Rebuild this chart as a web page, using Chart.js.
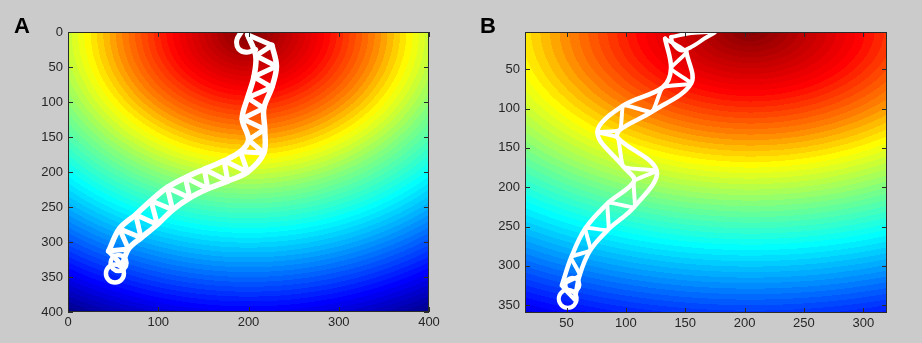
<!DOCTYPE html>
<html>
<head>
<meta charset="utf-8">
<script src="https://cdn.jsdelivr.net/npm/chart.js@4.4.1/dist/chart.umd.min.js"></script>
<style>
  html, body { margin: 0; padding: 0; background: #cbcbcb; }
  #wrap { position: relative; width: 922px; height: 343px; overflow: hidden; }
  .panel { position: absolute; top: 0; width: 461px; height: 343px; }
  .tag { position: absolute; top: 13px; font: bold 22px 'Liberation Sans', Arial, sans-serif; color: #000; }
</style>
</head>
<body>
<div id="wrap">
  <div class="panel" style="left:0"><canvas id="chart-a"></canvas></div>
  <div class="panel" style="left:461px"><canvas id="chart-b"></canvas></div>
  <div class="tag" style="left:14px">A</div>
  <div class="tag" style="left:480px">B</div>
</div>
<script>
// Two jet-coloured fields with a white looping track on each, drawn on scatter charts.
const FONT = "'Liberation Sans', Arial, sans-serif";
const INK = '#262626';
const FRAME = '#2a2a2a';
const TRAIL = '#ffffff';

Chart.defaults.font.family = FONT;
Chart.defaults.font.size = 13;
Chart.defaults.color = INK;
Chart.defaults.animation = false;

// ---- axes
const xTicksA = [0, 100, 200, 300, 400];
const yTicksA = [0, 50, 100, 150, 200, 250, 300, 350, 400];
const xTicksB = [50, 100, 150, 200, 250, 300];
const yTicksB = [50, 100, 150, 200, 250, 300, 350];

// ---- field: hot spot at the top edge, jet colours by distance from it (data units)
const jetColours = ['#800000', '#ff0000', '#ff8000', '#ffff00', '#80ff80', '#00ffff', '#0080ff', '#0000ff', '#000080'];
const fieldCentreA = [200, 0];
const levelRadiiA = [0, 85, 140, 180, 228, 285, 340, 395, 450];
const fieldCentreB = [205, 0];
const levelRadiiB = [0, 80, 132, 172, 222, 276, 330, 384, 438];

// ---- track A: vertices alternating across the chain, top to bottom
const chainA = [
  [199, 4], [226, 19], [208, 34], [231, 49], [206, 64], [226, 79], [199, 94], [217, 109],
  [193, 124], [218, 139], [200, 154], [217, 173], [191, 171], [199, 200], [173, 184], [177, 213],
  [151, 196], [155, 224], [130, 208], [135, 237], [110, 222], [116, 254], [92, 241], [99, 275],
  [75, 261], [81, 294], [57, 281], [67, 310], [45, 313], [60, 334],
];
const hookA = [[192, 0], [187, 12], [189, 24], [198, 29], [208, 25]];
const loopsA = [[52, 345], [56, 330]];

// ---- track B
const chainB = [
  [133, 11], [151, 28], [138, 49], [155, 68], [131, 73], [122, 104], [98, 96], [95, 127],
  [76, 130], [93, 137], [98, 174], [126, 179], [107, 192], [107, 225], [85, 220], [85, 254],
  [66, 252], [70, 280], [54, 289], [61, 312], [46, 325], [57, 343],
];
const leafB = [[138, 9], [155, 4], [175, 2], [166, 11], [157, 20], [147, 26], [140, 18], [138, 9]];
const loopsB = [[51, 342], [55, 324]];

// ---------------------------------------------------------------------------
const hex = (h) => [1, 3, 5].map((i) => parseInt(h.slice(i, i + 2), 16));
function colourAt(r, radii) {
  for (let i = 1; i < radii.length; i++) {
    if (r <= radii[i]) {
      const t = (r - radii[i - 1]) / (radii[i] - radii[i - 1]);
      const a = hex(jetColours[i - 1]), b = hex(jetColours[i]);
      return `rgb(${a.map((v, k) => Math.round(v + (b[k] - v) * t)).join(',')})`;
    }
  }
  return jetColours[jetColours.length - 1];
}

// filled-contour look: radial gradient in data space, in narrow flat bands
const fieldPlugin = {
  id: 'field',
  beforeDatasetsDraw(chart, args, o) {
    const { ctx, chartArea: a, scales: { x, y } } = chart;
    const sx = Math.abs(x.getPixelForValue(1) - x.getPixelForValue(0));
    const sy = Math.abs(y.getPixelForValue(1) - y.getPixelForValue(0));
    const rMax = o.radii[o.radii.length - 1];
    ctx.save();
    ctx.beginPath();
    ctx.rect(a.left, a.top, a.right - a.left, a.bottom - a.top);
    ctx.clip();
    ctx.translate(x.getPixelForValue(o.centre[0]), y.getPixelForValue(o.centre[1]));
    ctx.scale(sx * o.stretch, sy);
    const g = ctx.createRadialGradient(0, 0, 0, 0, 0, rMax);
    for (let r = 0; r < rMax; r += o.band) {
      const c = colourAt(r + o.band / 2, o.radii);
      g.addColorStop(r / rMax, c);
      g.addColorStop(Math.min(1, (r + o.band) / rMax), c);
    }
    ctx.fillStyle = g;
    ctx.fillRect(-3000, -3000, 6000, 6000);
    ctx.restore();
  },
  // box with inward ticks on all four sides
  afterDatasetsDraw(chart) {
    const { ctx, chartArea: a, scales: { x, y } } = chart;
    ctx.save();
    ctx.strokeStyle = FRAME;
    ctx.lineWidth = 1;
    ctx.strokeRect(a.left + 0.5, a.top + 0.5, a.right - a.left - 1, a.bottom - a.top - 1);
    ctx.beginPath();
    x.ticks.forEach((t) => {
      const p = Math.round(x.getPixelForValue(t.value)) + 0.5;
      ctx.moveTo(p, a.bottom); ctx.lineTo(p, a.bottom - 5);
      ctx.moveTo(p, a.top); ctx.lineTo(p, a.top + 5);
    });
    y.ticks.forEach((t) => {
      const p = Math.round(y.getPixelForValue(t.value)) + 0.5;
      ctx.moveTo(a.left, p); ctx.lineTo(a.left + 5, p);
      ctx.moveTo(a.right, p); ctx.lineTo(a.right - 5, p);
    });
    ctx.stroke();
    ctx.restore();
  },
};
Chart.register(fieldPlugin);

const pts = (arr) => arr.map(([x, y]) => ({ x, y }));
const side = (arr, k) => arr.filter((_, i) => i % 2 === k);
const line = (data, width, tension) => ({
  data: pts(data), showLine: true, borderColor: TRAIL, borderWidth: width, pointRadius: 0,
  tension, borderJoinStyle: 'round', borderCapStyle: 'round',
});
const rings = (data, radii, width) => ({
  data: pts(data), showLine: false, pointRadius: radii, pointBorderWidth: width,
  pointBorderColor: TRAIL, pointBackgroundColor: 'rgba(0,0,0,0)',
});

function axis(min, max, ticks, reverse, fit, pad) {
  return {
    type: 'linear', min, max, reverse,
    afterBuildTicks: (s) => { s.ticks = ticks.map((value) => ({ value })); },
    afterFit: fit,
    grid: { display: false, drawTicks: false },
    border: { display: false },
    ticks: { padding: pad, autoSkip: false, maxRotation: 0, color: INK },
  };
}

function panel(id, o) {
  new Chart(document.getElementById(id), {
    type: 'scatter',
    data: { datasets: o.datasets },
    options: {
      responsive: true,
      maintainAspectRatio: false,
      events: [],
      layout: { padding: o.padding },
      scales: {
        x: axis(o.x[0], o.x[1], o.xTicks, false, (s) => { s.height = o.xHeight; }, 3),
        y: axis(o.y[0], o.y[1], o.yTicks, true, (s) => { s.width = o.yWidth; }, 5),
      },
      plugins: {
        legend: { display: false },
        tooltip: { enabled: false },
        field: { centre: o.centre, radii: o.radii, stretch: o.stretch, band: o.band },
      },
    },
  });
}

panel('chart-a', {
  x: [0, 400], y: [0, 400], xTicks: xTicksA, yTicks: yTicksA,
  padding: { left: 0, top: 32, right: 32, bottom: 0 }, yWidth: 68, xHeight: 31,
  centre: fieldCentreA, radii: levelRadiiA, stretch: 1, band: 7,
  datasets: [
    line(side(chainA, 0), 5.5, 0.35),
    line(side(chainA, 1), 5.5, 0.35),
    line(chainA, 5, 0),
    line(hookA, 5, 0.4),
    rings(loopsA, [9, 8], 4.5),
  ],
});

panel('chart-b', {
  x: [15, 320], y: [2.6, 360], xTicks: xTicksB, yTicks: yTicksB,
  padding: { left: 0, top: 32, right: 35, bottom: 0 }, yWidth: 64, xHeight: 30,
  centre: fieldCentreB, radii: levelRadiiB, stretch: 1.15, band: 7,
  datasets: [
    line(side(chainB, 0), 4.5, 0.35),
    line(side(chainB, 1), 4.5, 0.35),
    line(chainB, 4, 0.15),
    line(leafB, 4, 0.45),
    rings(loopsB, [9, 7], 4),
  ],
});
</script>
</body>
</html>
